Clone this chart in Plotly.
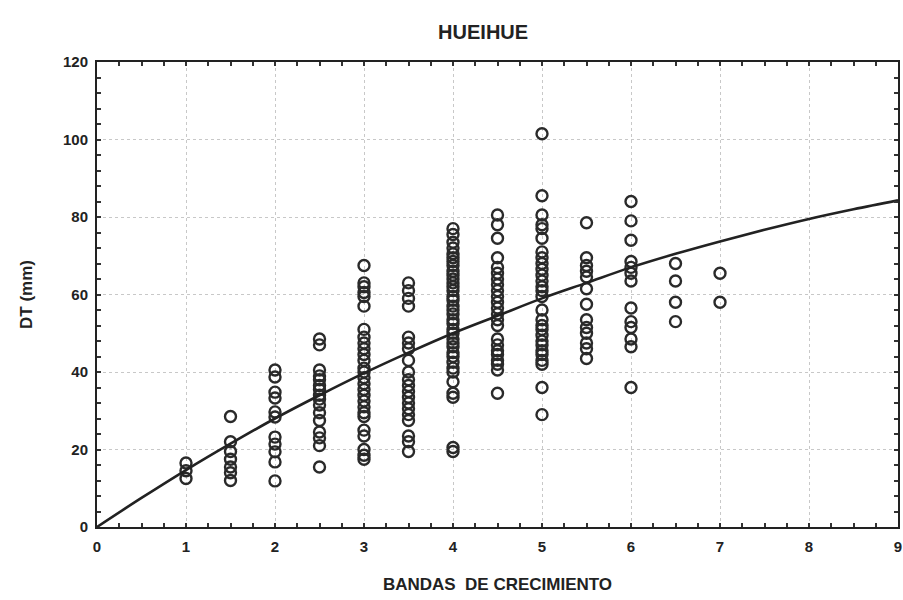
import plotly.graph_objects as go

# Observed DT (mm) for each number of growth bands
bands = [1, 1.5, 2, 2.5, 3, 3.5, 4, 4.5, 5, 5.5, 6, 6.5, 7]
dt_1 = [16.5, 14.5, 12.5]
dt_1_5 = [28.5, 22, 19.5, 17.5, 15.5, 14, 12]
dt_2 = [40.5, 38.7, 34.8, 33.3, 29.7, 28.4, 23.2, 21.4, 19.4, 16.8, 11.9]
dt_2_5 = [48.5, 47, 40.5, 39, 38, 36.5, 35.5, 34, 33, 31.5, 29.5, 27.5, 24.5, 23, 21, 15.5]
dt_3 = [67.5, 63, 62, 60.5, 59.5, 57, 51, 49, 47.5, 46, 44.5, 43, 41, 40, 38.5, 37,
        35.5, 34, 32.5, 31, 29.5, 28.5, 25, 23.5, 20, 18.5, 17.5]
dt_3_5 = [63, 61, 59, 57, 49, 47.5, 46, 43, 40, 38, 36.5, 35, 33.5, 32, 30.5, 29, 27.5,
          23.5, 22, 19.5]
dt_4 = [77, 75.5, 73.5, 72, 70.5, 69.5, 68.5, 67.5, 66, 65, 64, 63, 62, 61, 59.5, 58.5,
        57, 56, 55, 53.5, 52.5, 51, 50, 48.5, 47.5, 46.5, 45, 44, 42.5, 41, 40, 37.5,
        34.5, 33.5, 20.5, 19.5]
dt_4_5 = [80.5, 78, 74.5, 69.5, 67, 65.5, 64, 62.5, 61, 59.5, 58, 56.5, 55, 53.5, 52,
          48.5, 47, 45.5, 44.5, 43, 42, 40.5, 34.5]
dt_5 = [101.5, 85.5, 80.5, 78, 77, 74.5, 71, 69.5, 68, 66.5, 65, 63.5, 62, 61, 59.5, 56,
        53.5, 52, 51, 49.5, 48, 47, 45.5, 44.5, 43, 42, 36, 29]
dt_5_5 = [78.5, 69.5, 67.5, 66, 64.5, 61.5, 57.5, 53.5, 51.5, 50, 47.5, 46, 43.5]
dt_6 = [84, 79, 74, 68.5, 67, 65.5, 63.5, 56.5, 53, 51.5, 48.5, 46.5, 36]
dt_6_5 = [68, 63.5, 58, 53]
dt_7 = [65.5, 58]

groups = [dt_1, dt_1_5, dt_2, dt_2_5, dt_3, dt_3_5, dt_4, dt_4_5, dt_5, dt_5_5,
          dt_6, dt_6_5, dt_7]

# Fitted curve
curve_x = [0, 0.5, 1, 1.5, 2, 2.5, 3, 3.5, 4, 4.5, 5, 5.5, 6, 6.5, 7, 7.5, 8, 8.5, 9]
curve_y = [0, 7.5, 14.7, 21.5, 28, 34, 39.7, 45, 50, 54.5, 59, 63, 67, 70.5, 73.7,
           76.7, 79.5, 82, 84.3]

xs, ys = [], []
for b, g in zip(bands, groups):
    xs += [b] * len(g)
    ys += g

FONT = "Liberation Sans, Arial, sans-serif"

fig = go.Figure()
fig.add_trace(go.Scatter(
    x=xs, y=ys, mode="markers",
    marker=dict(symbol="circle-open", size=11, color="#2a2a2a",
                line=dict(width=2.4, color="#2a2a2a")),
    showlegend=False, cliponaxis=False))
fig.add_trace(go.Scatter(
    x=curve_x, y=curve_y, mode="lines", line=dict(color="#222", width=2.6, shape="spline"),
    showlegend=False))

axis_font = dict(family=FONT, size=15, color="#222")
common = dict(
    showline=True, linecolor="#222", linewidth=2, mirror="allticks",
    ticks="inside", ticklen=4, tickwidth=1.5, tickcolor="#333",
    showgrid=True, gridcolor="#c8c8c8", griddash="dot", gridwidth=1,
    zeroline=False, tickfont=axis_font, automargin=False,
    tickprefix="<b>", ticksuffix="</b>",
)
fig.update_xaxes(range=[0, 9], dtick=1, tick0=0, ticklabelstandoff=5,
                 minor=dict(ticks="inside", dtick=0.25, ticklen=4, tickcolor="#333", showgrid=False),
                 title=dict(text="<b>BANDAS  DE CRECIMIENTO</b>",
                            font=dict(family=FONT, size=17, color="#222"), standoff=24),
                 **common)
fig.update_yaxes(range=[0, 120], dtick=20, tick0=0, ticklabelstandoff=4,
                 minor=dict(ticks="inside", dtick=4, ticklen=4, tickcolor="#333", showgrid=False),
                 title=dict(text="<b>DT (mm)</b>",
                            font=dict(family=FONT, size=17, color="#222"), standoff=26),
                 **common)

fig.update_layout(
    width=903, height=600,
    paper_bgcolor="white", plot_bgcolor="white",
    margin=dict(l=97, r=5, t=62, b=73),
    title=dict(text="<b>HUEIHUE</b>", x=0.535, xanchor="center", y=0.947, yanchor="middle",
               font=dict(family=FONT, size=20, color="#222")),
)

fig.write_html("out.html", config={"displayModeBar": False},
               post_script="document.body.style.margin='0';")
